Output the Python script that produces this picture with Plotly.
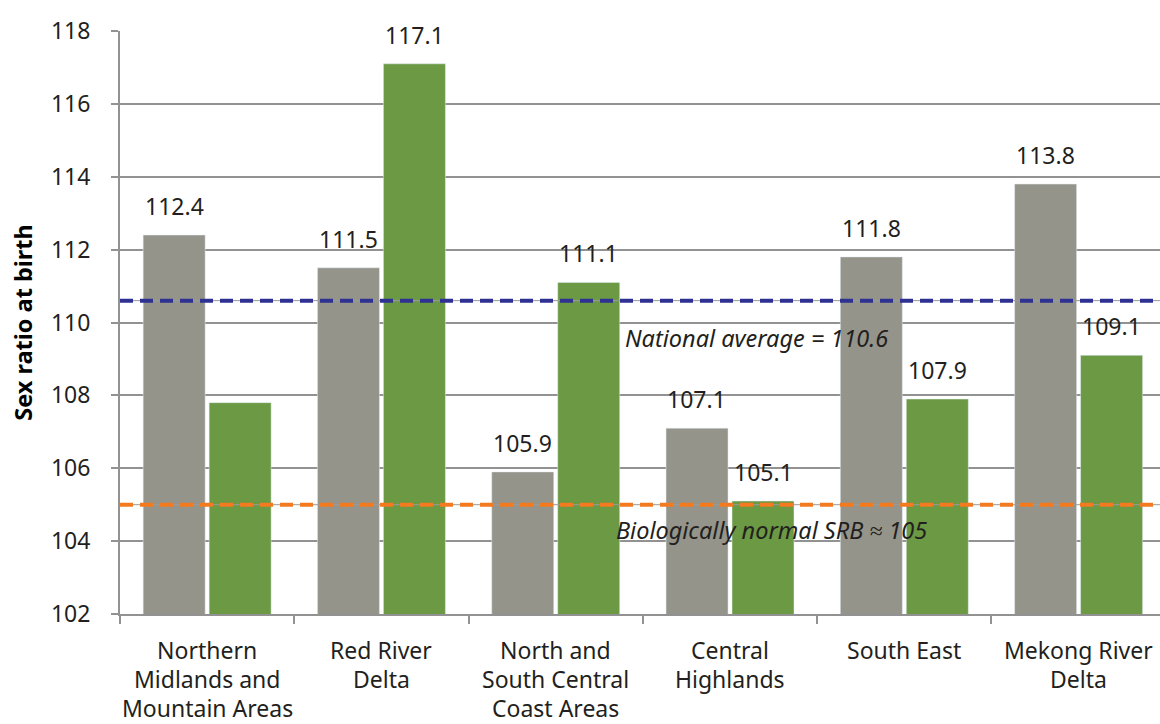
import plotly.graph_objects as go

# Regions (category labels, line-broken as printed under the axis)
REGIONS = [
    "Northern<br>Midlands and<br>Mountain Areas",
    "Red River<br>Delta",
    "North and<br>South Central<br>Coast Areas",
    "Central<br>Highlands",
    "South East",
    "Mekong River<br>Delta",
]

# Sex ratio at birth per region, two series
SRB_GREY = [112.4, 111.5, 105.9, 107.1, 111.8, 113.8]
SRB_GREEN = [107.8, 117.1, 111.1, 105.1, 107.9, 109.1]
# which bars carry a value label
GREY_LABELED = [True, True, True, True, True, True]
GREEN_LABELED = [False, True, True, True, True, True]

# Reference levels
NATIONAL_AVG = 110.6
NORMAL_SRB = 105

Y_TICKS = [102, 104, 106, 108, 110, 112, 114, 116, 118]

FONT = "Noto Sans"
TEXT_COLOR = "#231f20"
GREY = "#94948a"
GREEN = "#6b9944"
GRID = "#929292"

fig = go.Figure()
fig.add_trace(go.Bar(x=REGIONS, y=SRB_GREY, marker_color=GREY, name="Series A",
                     showlegend=False, hoverinfo="x+y"))
fig.add_trace(go.Bar(x=REGIONS, y=SRB_GREEN, marker_color=GREEN, name="Series B",
                     showlegend=False, hoverinfo="x+y"))

annotations = []
# value labels above bars (grey bars sit left, green right in each group)
for i, (g, gl, v, vl) in enumerate(zip(SRB_GREY, GREY_LABELED, SRB_GREEN, GREEN_LABELED)):
    for val, show, off in ((g, gl, -0.19), (v, vl, 0.19)):
        if show:
            annotations.append(dict(
                x=i + off, y=val, xref="x", yref="y", text=f"{val:.1f}",
                showarrow=False, yanchor="bottom", yshift=11,
                font=dict(family=FONT, size=23, color=TEXT_COLOR),
            ))

# category labels, one text per line for looser line spacing
for i, label in enumerate(REGIONS):
    for k, line in enumerate(label.split("<br>")):
        annotations.append(dict(
            x=i, y=0, xref="x", yref="paper", text=line, showarrow=False,
            xanchor="center", yanchor="middle", yshift=-36 - 29 * k,
            font=dict(family=FONT, size=23, color=TEXT_COLOR),
        ))

annotations.append(dict(
    x=3.15, y=NATIONAL_AVG, xref="x", yref="y",
    text=f"<i>National average = {NATIONAL_AVG}</i>", showarrow=False,
    yanchor="middle", yshift=-37,
    font=dict(family=FONT, size=23.5, color=TEXT_COLOR),
))
annotations.append(dict(
    x=3.24, y=NORMAL_SRB, xref="x", yref="y",
    text=f"<i>Biologically normal SRB ≈ {NORMAL_SRB}</i>", showarrow=False,
    yanchor="middle", yshift=-25,
    font=dict(family=FONT, size=23.5, color=TEXT_COLOR),
))
# y-axis title
annotations.append(dict(
    x=-0.094, y=0.5, xref="paper", yref="paper", text="<b>Sex ratio at birth</b>",
    textangle=-90, showarrow=False, xanchor="center", yanchor="middle",
    font=dict(family=FONT, size=23.5, color="#000000"),
))

shapes = []
for level, color in ((NATIONAL_AVG, "#2e3192"), (NORMAL_SRB, "#f47a20")):
    shapes.append(dict(type="line", xref="paper", yref="y", x0=0, x1=1, y0=level, y1=level,
                       line=dict(color="#9a9a9a", width=1), layer="above"))
    shapes.append(dict(type="line", xref="paper", yref="y", x0=0, x1=1, y0=level, y1=level,
                       line=dict(color=color, width=4, dash="13px,7px"), layer="above"))

fig.update_layout(
    width=1160, height=724,
    margin=dict(l=120, r=0, t=31, b=110, autoexpand=False),
    paper_bgcolor="white", plot_bgcolor="white",
    barmode="group", bargap=0.243, bargroupgap=0.06,
    font=dict(family=FONT, size=23, color=TEXT_COLOR),
    annotations=annotations, shapes=shapes,
    showlegend=False,
)
fig.update_xaxes(
    type="category", range=[-0.5, 5.467], tickson="boundaries",
    ticks="outside", ticklen=8, tickwidth=2, tickcolor=GRID,
    showline=True, linecolor=GRID, linewidth=2,
    showgrid=False, showticklabels=False,
)
fig.update_yaxes(
    range=[102, 118], tickvals=Y_TICKS, ticks="outside", ticklen=7, tickwidth=2,
    tickcolor=GRID, showline=True, linecolor=GRID, linewidth=2,
    showgrid=True, gridcolor=GRID, gridwidth=2, zeroline=False,
    ticklabelstandoff=16,
    tickfont=dict(family=FONT, size=23, color=TEXT_COLOR),
)

fig.write_html("out.html")
